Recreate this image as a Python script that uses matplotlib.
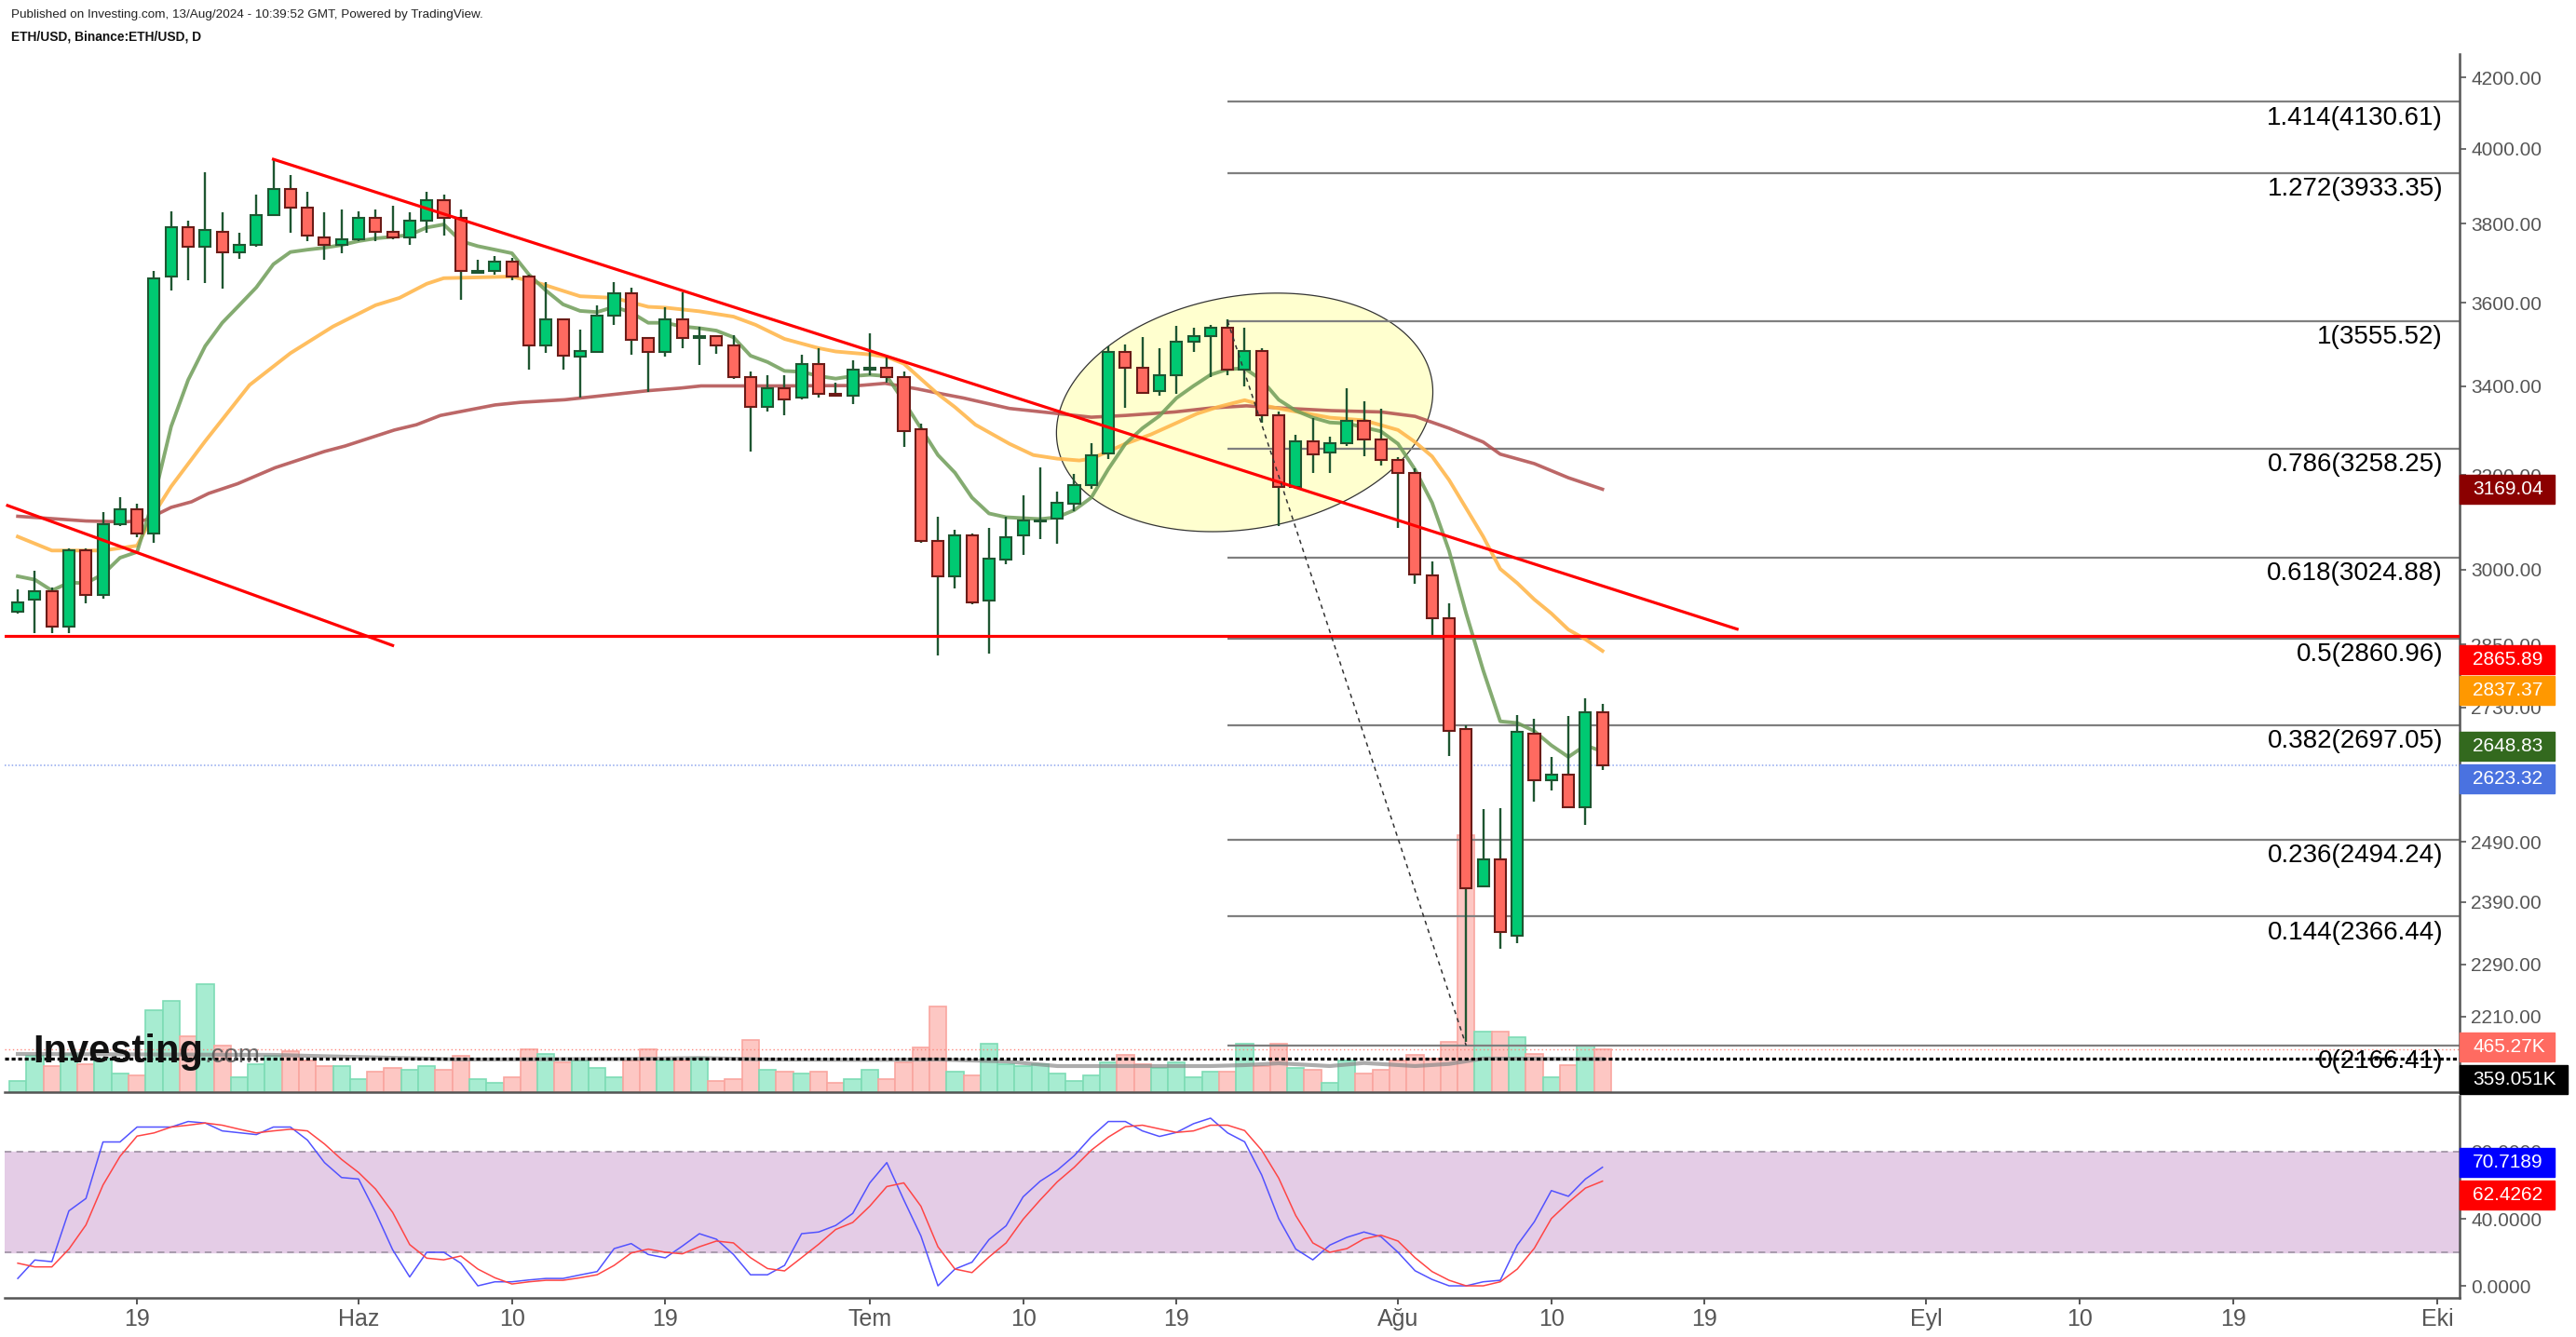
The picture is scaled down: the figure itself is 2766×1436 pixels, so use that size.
import numpy as np
import pandas as pd
import matplotlib
matplotlib.use("Agg")
import matplotlib.pyplot as plt
from matplotlib.patches import Rectangle
from matplotlib.ticker import NullLocator
from matplotlib.transforms import blended_transform_factory

plt.rcParams['font.family'] = ['Liberation Sans', 'DejaVu Sans']

W, H = 2766, 1436

# daily candles, starting 12 May 2024
start = pd.Timestamp("2024-05-12")

opens = [2915, 2938, 2956, 2885, 3040, 2949, 3094, 3126, 3075, 3665,
         3790, 3741, 3780, 3726, 3746, 3823, 3892, 3843, 3765, 3746,
         3760, 3814, 3780, 3765, 3808, 3862, 3814, 3674, 3679, 3703,
         3665, 3497, 3560, 3470, 3482, 3568, 3623, 3515, 3482, 3560,
         3514, 3519, 3497, 3422, 3352, 3396, 3373, 3453, 3383, 3378,
         3439, 3444, 3422, 3302, 3059, 2986, 3070, 2936, 3020, 3070,
         3100, 3107, 3137, 3178, 3248, 3482, 3443, 3390, 3426, 3505,
         3519, 3538, 3439, 3484, 3334, 3175, 3274, 3250, 3271, 3321,
         3279, 3233, 3205, 2987, 2902, 2690, 2416, 2460, 2335, 2682,
         2597, 2608, 2550, 2721]
highs = [2960, 2998, 2963, 3044, 3044, 3119, 3151, 3138, 3680, 3833,
         3809, 3937, 3829, 3776, 3877, 3973, 3928, 3883, 3829, 3838,
         3833, 3838, 3848, 3829, 3883, 3877, 3838, 3708, 3717, 3713,
         3670, 3652, 3560, 3534, 3594, 3652, 3638, 3515, 3588, 3625,
         3542, 3520, 3520, 3435, 3427, 3427, 3475, 3489, 3409, 3462,
         3525, 3469, 3435, 3315, 3111, 3083, 3075, 3087, 3111, 3155,
         3216, 3163, 3203, 3270, 3494, 3498, 3516, 3489, 3543, 3538,
         3546, 3560, 3539, 3489, 3343, 3290, 3328, 3285, 3396, 3365,
         3349, 3240, 3215, 3016, 2932, 2697, 2546, 2548, 2716, 2708,
         2639, 2714, 2747, 2737]
lows = [2910, 2873, 2873, 2873, 2931, 2940, 3091, 3066, 3055, 3631,
        3655, 3649, 3636, 3710, 3741, 3823, 3776, 3754, 3707, 3725,
        3754, 3754, 3760, 3746, 3776, 3769, 3608, 3674, 3669, 3655,
        3439, 3478, 3439, 3374, 3478, 3546, 3474, 3387, 3469, 3490,
        3451, 3477, 3418, 3251, 3343, 3334, 3369, 3373, 3378, 3360,
        3427, 3409, 3263, 3055, 2829, 2962, 2929, 2832, 3011, 3030,
        3062, 3054, 3122, 3169, 3236, 3350, 3382, 3378, 3382, 3482,
        3421, 3427, 3399, 3317, 3091, 3170, 3205, 3205, 3265, 3241,
        3220, 3086, 2970, 2866, 2641, 2172, 2416, 2315, 2323, 2559,
        2580, 2548, 2519, 2615]
closes = [2933, 2956, 2885, 3040, 2949, 3094, 3126, 3075, 3661, 3790,
          3741, 3784, 3726, 3746, 3823, 3892, 3843, 3769, 3746, 3760,
          3814, 3780, 3765, 3808, 3862, 3814, 3679, 3680, 3703, 3665,
          3497, 3560, 3471, 3483, 3568, 3623, 3510, 3482, 3560, 3514,
          3518, 3497, 3422, 3352, 3396, 3369, 3453, 3383, 3378, 3439,
          3444, 3422, 3298, 3059, 2986, 3070, 2933, 3023, 3067, 3103,
          3103, 3139, 3178, 3244, 3482, 3443, 3385, 3426, 3505, 3519,
          3538, 3439, 3484, 3334, 3175, 3274, 3246, 3271, 3321, 3279,
          3233, 3205, 2990, 2902, 2687, 2412, 2460, 2341, 2685, 2597,
          2608, 2550, 2721, 2623.32]

# volume in thousands
volumes = [121, 391, 286, 414, 306, 363, 202, 185, 889, 990,
           606, 1172, 505, 162, 303, 390, 448, 347, 286, 286,
           141, 222, 266, 245, 286, 245, 390, 141, 101, 165,
           465, 414, 326, 347, 266, 165, 347, 465, 347, 347,
           370, 121, 141, 566, 245, 222, 202, 222, 101, 141,
           245, 141, 326, 485, 929, 222, 185, 525, 303, 283,
           303, 202, 121, 182, 323, 404, 303, 262, 323, 162,
           222, 222, 525, 283, 525, 262, 242, 101, 343, 202,
           242, 343, 404, 363, 545, 2790, 657, 657, 600, 414,
           162, 295, 500, 465.27]
vol_ma_days = [0, 15, 17, 24, 26, 36, 40, 44, 50, 54, 58, 61, 64, 70, 72,
               74, 77, 79, 82, 84, 86, 93]
vol_ma = [414, 404, 394, 364, 354, 360, 370, 354, 350, 354, 333, 283, 283,
          283, 293, 313, 283, 316, 283, 306, 364, 359.051]

ma_green = [2986, 2979, 2957, 2973, 2972, 2990, 3024, 3036, 3151, 3308,
            3415, 3495, 3551, 3594, 3638, 3696, 3727, 3733, 3738, 3745,
            3755, 3762, 3766, 3771, 3790, 3798, 3755, 3742, 3733, 3724,
            3670, 3630, 3596, 3580, 3577, 3590, 3576, 3551, 3551, 3542,
            3538, 3532, 3516, 3472, 3457, 3436, 3434, 3424, 3418, 3424,
            3427, 3424, 3365, 3304, 3244, 3205, 3151, 3117, 3109, 3107,
            3105, 3109, 3124, 3151, 3213, 3269, 3304, 3332, 3373, 3401,
            3427, 3440, 3442, 3415, 3369, 3344, 3328, 3317, 3315, 3306,
            3297, 3269, 3212, 3140, 3038, 2911, 2800, 2704, 2701, 2686,
            2660, 2639, 2660, 2648.83]
ma_orange_days = [0, 2, 5, 7, 8, 9, 11, 13.6, 16, 18.5, 21, 22.4, 24, 25, 27,
                  29, 30.7, 33, 35, 37, 38, 40, 42, 43.3, 45, 47, 48, 50, 51,
                  52, 54, 55, 56.2, 58.2, 59.6, 61, 62.3, 63, 64, 65, 66.5, 68,
                  69.2, 70.4, 72, 73, 74, 77, 79, 81, 82, 83, 84, 85, 86, 87,
                  88, 89, 90, 91, 92, 93]
ma_orange = [3068, 3039, 3039, 3049, 3117, 3175, 3275, 3403, 3478, 3542, 3594,
             3612, 3647, 3661, 3663, 3665, 3647, 3616, 3612, 3590, 3588, 3579,
             3566, 3546, 3512, 3490, 3482, 3475, 3469, 3453, 3382, 3352, 3312,
             3269, 3244, 3236, 3232, 3236, 3252, 3269, 3290, 3316, 3337, 3352,
             3368, 3357, 3349, 3328, 3322, 3300, 3273, 3241, 3189, 3128, 3068,
             3001, 2972, 2939, 2911, 2879, 2860, 2837.37]
ma_brown_days = [0, 2, 4, 6.3, 7.5, 9, 10.2, 11.2, 12.9, 15.1, 18, 19.2, 22.1,
                 23.4, 24.8, 28, 29.5, 32.1, 37, 38.9, 40.1, 44.5, 49.4, 50.9,
                 52.8, 54.3, 55.5, 58.2, 61.1, 63, 65, 67.9, 70, 72.1, 74.1,
                 77.1, 80, 82, 84, 86, 87, 89, 91, 93]
ma_brown = [3111, 3106, 3101, 3099, 3103, 3130, 3142, 3160, 3181, 3216, 3252,
            3264, 3300, 3312, 3333, 3357, 3363, 3369, 3390, 3396, 3401, 3401,
            3402, 3407, 3394, 3382, 3373, 3349, 3337, 3329, 3333, 3341, 3350,
            3355, 3350, 3344, 3341, 3331, 3304, 3273, 3246, 3225, 3194, 3169.04]

stoch_k = [4.4, 15.4, 14.4, 44.7, 52.1, 85.8, 85.8, 94.7, 94.7, 94.7,
           98.0, 97.1, 92.4, 91.3, 90.2, 94.7, 94.7, 86.9, 73.5, 64.6,
           63.7, 43.8, 21.5, 5.3, 20.0, 20.0, 13.5, 0.0, 2.4, 2.4,
           3.5, 4.4, 4.4, 6.5, 8.5, 22.2, 25.2, 18.7, 16.7, 23.7,
           31.1, 27.8, 18.7, 6.6, 6.6, 12.2, 31.1, 32.1, 36.0, 43.2,
           61.4, 73.5, 51.2, 29.8, 0.0, 10.0, 14.1, 27.6, 35.8, 53.1,
           62.4, 68.9, 77.6, 88.9, 98.0, 98.0, 92.4, 89.1, 91.5, 96.7,
           100.0, 91.2, 85.9, 66.1, 40.1, 21.9, 15.5, 24.3, 28.9, 32.1,
           29.3, 20.0, 9.0, 3.8, 0.0, 0.0, 2.4, 3.3, 24.3, 38.2,
           56.8, 53.4, 63.7, 70.7189]
stoch_d = [13.5, 11.3, 11.3, 21.9, 36.3, 60.1, 77.2, 89.3, 91.2, 94.7,
           95.8, 97.1, 95.8, 93.4, 91.2, 92.4, 93.4, 92.4, 84.6, 75.4,
           67.6, 57.7, 43.8, 24.6, 16.5, 15.5, 17.8, 10.0, 4.8, 1.1,
           2.4, 3.3, 3.3, 4.8, 6.6, 12.2, 19.6, 21.9, 20.0, 19.1,
           23.3, 26.7, 25.6, 16.8, 10.3, 8.9, 16.8, 24.8, 33.6, 37.8,
           47.5, 59.2, 61.4, 47.5, 23.3, 10.0, 7.9, 17.2, 25.6, 39.7,
           51.2, 62.0, 70.7, 80.9, 88.7, 94.9, 95.8, 93.6, 91.5, 92.4,
           95.8, 95.8, 92.6, 80.9, 64.2, 41.9, 25.6, 20.0, 22.2, 28.0,
           30.2, 26.7, 16.8, 8.5, 3.3, 0.0, 0.0, 2.4, 10.0, 22.4,
           40.1, 49.7, 58.3, 62.4262]

# drawings
fib_ratios = [1.414, 1.272, 1, 0.786, 0.618, 0.5, 0.382, 0.236, 0.144, 0]
fib_prices = [4130.61, 3933.35, 3555.52, 3258.25, 3024.88, 2860.96, 2697.05,
              2494.24, 2366.44, 2166.41]
fib_start_day = 71
fib_trend_days = [71, 85]
fib_trend_prices = [3555.52, 2166.41]
upper_line_days = [15, 100.9]
upper_line_prices = [3971, 2880]
lower_line_days = [-0.6, 22.0]
lower_line_prices = [3134, 2848]
support_level = 2865.89
ellipse_day, ellipse_price = 72.0, 3340

price_ticks = [4200, 4000, 3800, 3600, 3400, 3200, 3000, 2850, 2730, 2490,
               2390, 2290, 2210]
stoch_ticks = [0, 40, 80]
tick_dates = ['2024-05-19', '2024-06-01', '2024-06-10', '2024-06-19',
              '2024-07-01', '2024-07-10', '2024-07-19', '2024-08-01',
              '2024-08-10', '2024-08-19', '2024-09-01', '2024-09-10',
              '2024-09-19', '2024-10-01']
tick_labels = ['19', 'Haz', '10', '19', 'Tem', '10', '19', 'Ağu', '10', '19',
               'Eyl', '10', '19', 'Eki']

# price scale labels: text, colour, axis, value, pixel shift down
last_labels = [
    ('3169.04', '#8b0000', 'p', 3169.04, 0),
    ('2865.89', '#ff0000', 'p', 2865.89, 25),
    ('2837.37', '#ff9800', 'p', 2837.37, 42),
    ('2648.83', '#33691e', 'p', 2648.83, -6),
    ('2623.32', '#4a72e0', 'p', 2623.32, 14),
    ('465.27K', '#ff6b61', 'v', 465.27, -2),
    ('359.051K', '#000000', 'v', 359.051, 22),
    ('70.7189', '#0000ff', 's', 70.7189, -5),
    ('62.4262', '#ff0000', 's', 62.4262, 15),
]


def rect(x0, y0, x1, y1):
    return [x0 / W, 1 - y1 / H, (x1 - x0) / W, (y1 - y0) / H]


fig = plt.figure(figsize=(W / 100, H / 100), dpi=100)
fig.patch.set_facecolor('white')

XL = (-0.77, 143.3)
x = np.arange(len(opens))
o = np.array(opens, float)
c = np.array(closes, float)
hi = np.array(highs, float)
lo = np.array(lows, float)
up = c >= o

axv = fig.add_axes(rect(5, 58, 2641, 1173), zorder=1)
ax = fig.add_axes(rect(5, 58, 2641, 1173), zorder=2)
ax.patch.set_visible(False)
axs = fig.add_axes(rect(5, 1177, 2641, 1394), zorder=1)

ax.set_yscale('log')
ax.set_xlim(*XL)
ax.set_ylim(2098.5, 4267.4)
axv.set_xlim(*XL)
axv.set_ylim(0, 11262)
axs.set_xlim(*XL)
axs.set_ylim(-7.2, 113.3)

# volume
vcol = np.where(up, '#a7ecd1', '#fdc7c3')
vedge = np.where(up, '#7ddcb5', '#f9a6a0')
axv.bar(x, volumes, width=1.0, color=vcol, edgecolor=vedge, linewidth=1.2)
axv.plot(vol_ma_days, vol_ma, color='#8a8a8a', alpha=0.7, lw=3)
axv.axhline(465.27, color='#ff8a80', ls=(0, (1, 2)), lw=1)
axv.axhline(359.051, color='black', ls=(0, (1.3, 0.9)), lw=2.3)
axv.axis('off')

# ellipse in pixel space
cx, cy = ax.transData.transform((ellipse_day, ellipse_price))
t = np.linspace(0, 2 * np.pi, 300)
a, b, th = 204, 125, np.radians(10)
ex = cx + a * np.cos(t) * np.cos(th) - b * np.sin(t) * np.sin(th)
ey = cy + a * np.cos(t) * np.sin(th) + b * np.sin(t) * np.cos(th)
pts = ax.transData.inverted().transform(np.column_stack([ex, ey]))
ax.fill(pts[:, 0], pts[:, 1], facecolor='#ffffcf', edgecolor='#333333',
        lw=0.9, zorder=0.5)

# fib levels
ax.hlines(fib_prices, fib_start_day, XL[1], color='#7f7f7f', lw=1.6, zorder=1)
btr = blended_transform_factory(ax.transAxes, ax.transData)
for r, p in zip(fib_ratios, fib_prices):
    ax.annotate(f"{r:g}({p:.2f})", xy=(0.9932, p), xycoords=btr,
                xytext=(0, -12.5), textcoords='offset points',
                ha='right', va='center', fontsize=20, color='black', zorder=6)
ax.plot(fib_trend_days, fib_trend_prices, color='#333333', lw=1.1,
        ls=(0, (3, 3)), zorder=6)

ax.axhline(closes[-1], color='#8ea6ee', ls=(0, (1, 1.5)), lw=1.1, zorder=1)

# moving averages
ax.plot(ma_brown_days, ma_brown, color='#b14c4c', alpha=0.85, lw=2.6, zorder=2)
ax.plot(ma_orange_days, ma_orange, color='#ffb74d', alpha=0.9, lw=2.8, zorder=2)
ax.plot(x, ma_green, color='#6f9d58', alpha=0.85, lw=2.8, zorder=2)

# candles
body_lo = np.minimum(o, c)
body_h = np.maximum(np.abs(c - o), 3)
ax.vlines(x, lo, hi, color='#1e5631', lw=1.7, zorder=3)
ax.bar(x[up], body_h[up], bottom=body_lo[up], width=0.66, color='#00c972',
       edgecolor='#1e5631', linewidth=1.5, zorder=4)
ax.bar(x[~up], body_h[~up], bottom=body_lo[~up], width=0.66, color='#ff6a60',
       edgecolor='#6b1b17', linewidth=1.5, zorder=4)

# trend lines
ax.plot(upper_line_days, upper_line_prices, color='#ff0000', lw=2.3, zorder=5)
ax.plot(lower_line_days, lower_line_prices, color='#ff0000', lw=2.3, zorder=5)
ax.axhline(support_level, color='#ff0000', lw=2.3, zorder=5)

# price axis
for s in ['top', 'left']:
    ax.spines[s].set_visible(False)
for s in ['right', 'bottom']:
    ax.spines[s].set_color('#555555')
    ax.spines[s].set_linewidth(1.8)
ax.yaxis.tick_right()
ax.yaxis.set_minor_locator(NullLocator())
ax.set_yticks(price_ticks)
ax.set_yticklabels([f"{v:.2f}" for v in price_ticks])
ax.tick_params(axis='y', which='major', length=5, width=1.2, colors='#555555',
               labelsize=15, pad=4)
ax.set_xticks([])

# stochastic pane
axs.axhspan(20, 80, color='#e4cce6', zorder=0)
axs.axhline(80, color='#a497a8', ls=(0, (4, 3)), lw=1.3)
axs.axhline(20, color='#a497a8', ls=(0, (4, 3)), lw=1.3)
axs.plot(x, stoch_k, color='#5252ff', lw=1.1)
axs.plot(x, stoch_d, color='#ff4545', lw=1.1)
for s in ['top', 'left']:
    axs.spines[s].set_visible(False)
for s in ['right', 'bottom']:
    axs.spines[s].set_color('#555555')
    axs.spines[s].set_linewidth(1.8)
axs.yaxis.tick_right()
axs.set_yticks(stoch_ticks)
axs.set_yticklabels([f"{v:.4f}" for v in stoch_ticks])
axs.tick_params(axis='y', length=5, width=1.2, colors='#555555', labelsize=15,
                pad=4)
tick_pos = [(pd.Timestamp(d) - start).days for d in tick_dates]
axs.set_xticks(tick_pos)
axs.set_xticklabels(tick_labels, family=['Liberation Sans Narrow', 'Liberation Sans'])
axs.tick_params(axis='x', length=5, width=1.4, colors='#555555', labelsize=18,
                pad=3)

# last value labels on the price scale
axes_by_key = {'p': ax, 'v': axv, 's': axs}
for txt, col, key, val, shift in last_labels:
    yd = axes_by_key[key].transData.transform((0, val))[1] - shift
    wbox = 102 if len(txt) <= 7 else 116
    fig.add_artist(Rectangle((2641 / W, (yd - 15.5) / H), wbox / W, 31 / H,
                             transform=fig.transFigure, color=col, zorder=10))
    fig.text(2655 / W, yd / H, txt, color='white', fontsize=15, ha='left',
             va='center', zorder=11)

# header
fig.text(12 / W, 1 - 16 / H,
         "Published on Investing.com, 13/Aug/2024 - 10:39:52 GMT, Powered by TradingView.",
         fontsize=9.7, color='#222222', va='center',
         family=['Liberation Sans Narrow', 'Liberation Sans'])
fig.text(12 / W, 1 - 39 / H, "ETH/USD, Binance:ETH/USD, D", fontsize=9.9,
         weight='bold', color='#111111', va='center',
         family=['Liberation Sans Narrow', 'Liberation Sans'])

# watermark
fig.text(35 / W, 1 - 1141 / H, "Investing", fontsize=30, weight='bold',
         color='#111111', va='baseline', zorder=12)
fig.text(219 / W, 1 - 1141 / H, ".com", fontsize=20, color='#555555',
         alpha=0.85, va='baseline', zorder=12)

fig.savefig("out.png", dpi=100, facecolor='white')
